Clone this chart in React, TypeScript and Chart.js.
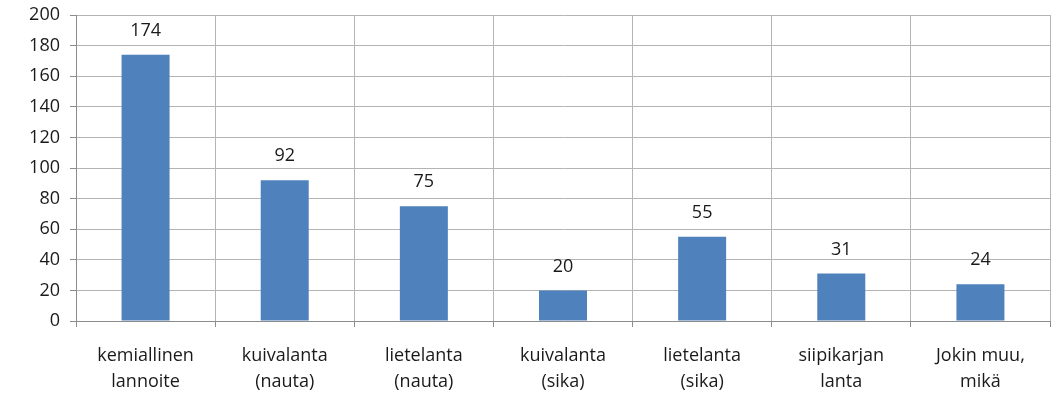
import React, { useEffect, useRef } from "react";
import { Chart, registerables } from "chart.js";

Chart.register(...registerables);

const categories: string[][] = [
  ["kemiallinen", "lannoite"],
  ["kuivalanta", "(nauta)"],
  ["lietelanta", "(nauta)"],
  ["kuivalanta", "(sika)"],
  ["lietelanta", "(sika)"],
  ["siipikarjan", "lanta"],
  ["Jokin muu,", "mikä"],
];
const counts: number[] = [174, 92, 75, 20, 55, 31, 24];
const yMin = 0;
const yMax = 200;
const yStep = 20;

const FONT = "'Open Sans', 'Noto Sans', sans-serif";

// Writes each bar's value centred above it
const valueLabels = {
  id: "valueLabels",
  afterDatasetsDraw(chart: any) {
    const ctx = chart.ctx;
    const meta = chart.getDatasetMeta(0);
    const data = chart.data.datasets[0].data as number[];
    ctx.save();
    ctx.font = `18px ${FONT}`;
    ctx.fillStyle = "#1a1a1a";
    ctx.textAlign = "center";
    ctx.textBaseline = "middle";
    meta.data.forEach((bar: any, i: number) => {
      ctx.fillText(String(data[i]), bar.x, bar.y - 24);
    });
    ctx.restore();
  },
};

export default function App() {
  const ref = useRef<HTMLCanvasElement>(null);

  useEffect(() => {
    document.body.style.margin = "0";
    const chart = new Chart(ref.current!, {
      type: "bar",
      data: {
        labels: categories,
        datasets: [
          {
            data: counts,
            backgroundColor: "#4f81bd",
            borderWidth: 0,
            barPercentage: 0.345,
            categoryPercentage: 1,
          },
        ],
      },
      options: {
        animation: false,
        responsive: false,
        maintainAspectRatio: false,
        layout: { padding: { top: 15, right: 12, left: 0, bottom: 0 } },
        plugins: { legend: { display: false }, tooltip: { enabled: false } },
        scales: {
          x: {
            offset: true,
            grid: {
              offset: true,
              color: "#b4b4b4",
              lineWidth: 1,
              tickLength: 6,
              tickColor: "#8c8c8c",
            },
            border: { color: "#8c8c8c", width: 1 },
            ticks: {
              color: "#1a1a1a",
              font: { family: FONT, size: 18, lineHeight: 1.45 },
              padding: 16,
              maxRotation: 0,
              autoSkip: false,
            },
            afterFit(scale: any) {
              scale.height = 74;
              scale.paddingLeft = 0;
              scale.paddingRight = 0;
            },
          },
          y: {
            min: yMin,
            max: yMax,
            grid: {
              color: "#b4b4b4",
              lineWidth: 1,
              tickLength: 6,
              tickColor: "#8c8c8c",
            },
            border: { color: "#8c8c8c", width: 1 },
            ticks: {
              stepSize: yStep,
              color: "#1a1a1a",
              font: { family: FONT, size: 18 },
              padding: 10,
            },
            afterFit(scale: any) {
              scale.width = 76;
              scale.paddingTop = 0;
              scale.paddingBottom = 0;
            },
          },
        },
      },
      plugins: [valueLabels],
    });
    return () => chart.destroy();
  }, []);

  return (
    <div style={{ width: 1062, height: 395 }}>
      <canvas ref={ref} width={1062} height={395} style={{ display: "block" }} />
    </div>
  );
}
